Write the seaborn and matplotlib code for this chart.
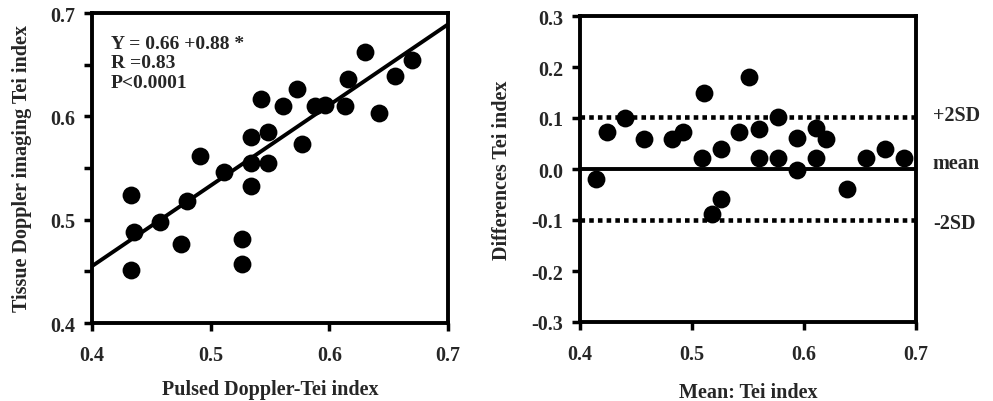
import numpy as np
import pandas as pd
import matplotlib
matplotlib.use("Agg")
import matplotlib.pyplot as plt
from matplotlib.ticker import MultipleLocator
import seaborn as sns

# Left panel: pulsed Doppler vs tissue Doppler Tei index
pd_tei = [0.433, 0.435, 0.433, 0.457, 0.475, 0.480, 0.491, 0.511, 0.526, 0.526,
          0.534, 0.534, 0.534, 0.542, 0.548, 0.548, 0.561, 0.573, 0.577, 0.588,
          0.596, 0.613, 0.616, 0.630, 0.642, 0.655, 0.670]
tdi_tei = [0.524, 0.488, 0.451, 0.498, 0.476, 0.518, 0.562, 0.546, 0.481, 0.457,
           0.533, 0.555, 0.580, 0.617, 0.585, 0.555, 0.610, 0.626, 0.573, 0.610,
           0.611, 0.610, 0.636, 0.662, 0.603, 0.639, 0.655]
fit_x = [0.40, 0.70]
fit_y = [0.455, 0.689]
fit_text = ["Y = 0.66 +0.88 *", "R =0.83", "P<0.0001"]

# Right panel: Bland-Altman
mean_tei = [0.414, 0.424, 0.440, 0.457, 0.482, 0.492, 0.509, 0.511, 0.518, 0.526,
            0.526, 0.542, 0.551, 0.560, 0.560, 0.577, 0.577, 0.594, 0.594, 0.611,
            0.611, 0.620, 0.638, 0.655, 0.672, 0.689]
diff_tei = [-0.020, 0.072, 0.100, 0.059, 0.059, 0.072, 0.021, 0.150, -0.088, -0.059,
            0.039, 0.072, 0.180, 0.079, 0.021, 0.101, 0.021, 0.061, -0.002, 0.081,
            0.021, 0.059, -0.039, 0.021, 0.039, 0.021]
mean_diff = 0.0
upper_sd = 0.101
lower_sd = -0.100
limit_labels = ["+2SD", "mean", "-2SD"]
diff_ticks = [-0.3, -0.2, -0.1, 0.0, 0.1, 0.2, 0.3]
tei_ticks = [0.4, 0.5, 0.6, 0.7]

sns.set_style("ticks")
plt.rcParams["font.family"] = ["Liberation Serif", "DejaVu Serif"]
plt.rcParams["font.weight"] = "bold"

fig = plt.figure(figsize=(9.93, 4.02), dpi=100)
ax1 = fig.add_axes([92 / 993, 78 / 402, 356 / 993, 310 / 402])
ax2 = fig.add_axes([580 / 993, 79 / 402, 336 / 993, 306 / 402])

left = pd.DataFrame({"x": pd_tei, "y": tdi_tei})
sns.scatterplot(data=left, x="x", y="y", ax=ax1, color="black", s=165,
                edgecolor="black", linewidth=0, zorder=3, clip_on=False)
sns.lineplot(x=fit_x, y=fit_y, ax=ax1, color="black", linewidth=2.8, zorder=2)
ax1.set_xticks(tei_ticks)
ax1.set_yticks(tei_ticks)
ax1.yaxis.set_minor_locator(MultipleLocator(0.05))
ax1.set_xlim(0.4, 0.7)
ax1.set_ylim(0.4, 0.7)
ax1.text(0.052, 0.93, "\n".join(fit_text), transform=ax1.transAxes,
         fontsize=14, fontweight="bold", va="top", linespacing=1.2)
ax1.set_xlabel("Pulsed Doppler-Tei index", fontsize=14.5, fontweight="bold")
ax1.set_ylabel("Tissue Doppler imaging Tei index", fontsize=14.5, fontweight="bold")
ax1.xaxis.set_label_coords(0.5, -0.18)
ax1.yaxis.set_label_coords(-0.169, 0.5)

right = pd.DataFrame({"x": mean_tei, "y": diff_tei})
sns.scatterplot(data=right, x="x", y="y", ax=ax2, color="black", s=165,
                edgecolor="black", linewidth=0, zorder=3, clip_on=False)
ax2.axhline(mean_diff, color="black", linewidth=2.8, zorder=2)
for lvl in (upper_sd, lower_sd):
    ax2.axhline(lvl, color="black", linewidth=3.3, linestyle=(0, (1, 0.9)),
                dash_capstyle="butt", zorder=2)
ax2.set_xticks(tei_ticks)
ax2.set_yticks(diff_ticks)
ax2.set_yticklabels([f"{v:.1f}" for v in diff_ticks])
ax2.set_xlim(0.4, 0.7)
ax2.set_ylim(-0.3, 0.3)
for lbl, lvl in zip(limit_labels, (upper_sd + 0.004, mean_diff + 0.012, lower_sd - 0.005)):
    ax2.text(1.05, lvl, lbl, transform=ax2.get_yaxis_transform(),
             fontsize=14.5, fontweight="bold", va="center", ha="left")
ax2.set_xlabel("Mean: Tei index", fontsize=14.5, fontweight="bold")
ax2.set_ylabel("Differences Tei index", fontsize=14.5, fontweight="bold")
ax2.xaxis.set_label_coords(0.5, -0.196)
ax2.yaxis.set_label_coords(-0.202, 0.5)

for ax in (ax1, ax2):
    for sp in ax.spines.values():
        sp.set_linewidth(2.8)
        sp.set_color("black")
    ax.tick_params(which="both", direction="out", length=6, width=2.5,
                   color="black", labelsize=14.5)
    ax.tick_params(axis="x", pad=10)
    ax.tick_params(axis="y", pad=6)
    for t in ax.get_xticklabels() + ax.get_yticklabels():
        t.set_fontweight("bold")

fig.savefig("out.png", dpi=100)
